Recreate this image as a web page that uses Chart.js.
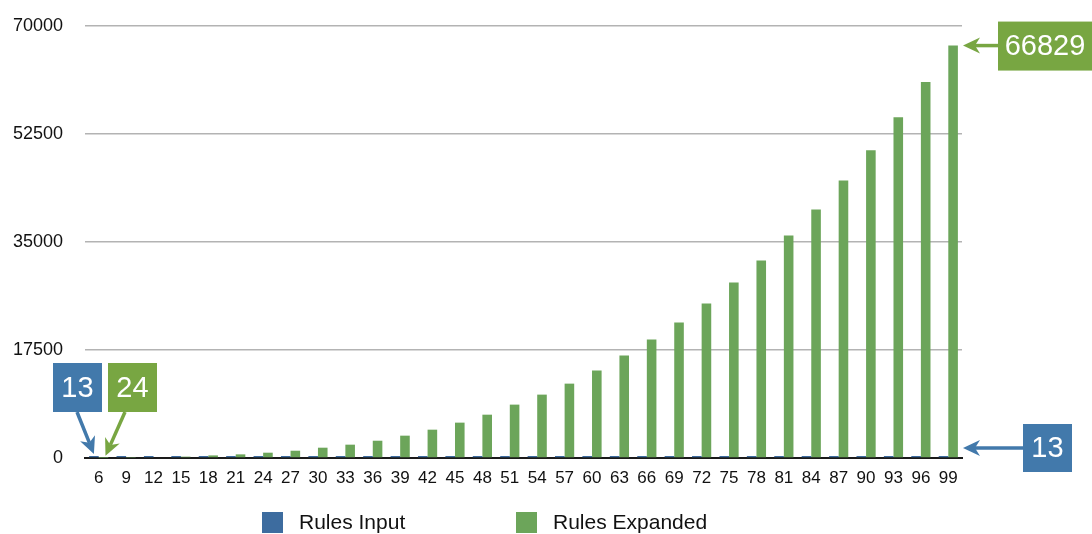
<!DOCTYPE html>
<html>
<head>
<meta charset="utf-8">
<script src="https://cdn.jsdelivr.net/npm/chart.js@4/dist/chart.umd.min.js"></script>
<style>
  html, body { margin: 0; padding: 0; background: #fff; }
  canvas { display: block; }
</style>
</head>
<body>
<canvas id="myChart" width="1092" height="534"></canvas>
<script>
// rule counts per input size
const tamanhos = [6, 9, 12, 15, 18, 21, 24, 27, 30, 33, 36, 39, 42, 45, 48, 51,
                  54, 57, 60, 63, 66, 69, 72, 75, 78, 81, 84, 87, 90, 93, 96, 99];
const rulesInput = [13, 13, 13, 13, 13, 13, 13, 13, 13, 13, 13, 13, 13, 13, 13, 13,
                    13, 13, 13, 13, 13, 13, 13, 13, 13, 13, 13, 13, 13, 13, 13, 13];
const rulesExpanded = [24, 60, 120, 220, 420, 590, 860, 1180, 1670, 2160, 2800, 3620,
                       4590, 5730, 7020, 8650, 10270, 12050, 14160, 16600, 19200, 21950,
                       25030, 28430, 32000, 36050, 40260, 44960, 49880, 55230, 60910, 66829];
const yTicks = [0, 17500, 35000, 52500, 70000];

const fonte = '"Liberation Sans", Helvetica, Arial, sans-serif';
const azul = '#3d6c9f';
const verde = '#6ca55a';
const azulCaixa = '#4279ab';
const verdeCaixa = '#78a642';

function seta(ctx, x1, y1, x2, y2, cor) {
    const ang = Math.atan2(y2 - y1, x2 - x1);
    const comp = 17, larg = 8, recuo = 5;
    ctx.save();
    ctx.strokeStyle = cor;
    ctx.fillStyle = cor;
    ctx.lineWidth = 3.5;
    ctx.beginPath();
    ctx.moveTo(x1, y1);
    ctx.lineTo(x2 - Math.cos(ang) * (comp - recuo), y2 - Math.sin(ang) * (comp - recuo));
    ctx.stroke();
    ctx.translate(x2, y2);
    ctx.rotate(ang);
    ctx.beginPath();
    ctx.moveTo(0, 0);
    ctx.lineTo(-comp, -larg);
    ctx.lineTo(-comp + recuo, 0);
    ctx.lineTo(-comp, larg);
    ctx.closePath();
    ctx.fill();
    ctx.restore();
}

function caixa(ctx, x, y, w, h, cor, texto) {
    ctx.save();
    ctx.fillStyle = cor;
    ctx.fillRect(x, y, w, h);
    ctx.fillStyle = '#fff';
    ctx.font = '29px ' + fonte;
    ctx.textAlign = 'center';
    ctx.textBaseline = 'middle';
    ctx.fillText(texto, x + w / 2, y + h / 2 + 1);
    ctx.restore();
}

// value callouts + legend drawn after the bars
const destaques = {
    id: 'destaques',
    afterDatasetsDraw(chart) {
        const ctx = chart.ctx;
        const area = chart.chartArea;
        const azulBars = chart.getDatasetMeta(0).data;
        const verdeBars = chart.getDatasetMeta(1).data;
        const ult = tamanhos.length - 1;

        // first point
        caixa(ctx, 53, 363, 49, 49, azulCaixa, String(rulesInput[0]));
        caixa(ctx, 108, 363, 49, 49, verdeCaixa, String(rulesExpanded[0]));
        seta(ctx, 77, 412, azulBars[0].x, azulBars[0].y - 2, azulCaixa);
        seta(ctx, 125, 412, verdeBars[0].x + 2, verdeBars[0].y - 2, verdeCaixa);

        // last point
        const yv = verdeBars[ult].y;
        caixa(ctx, 998, yv - 24, 94, 49, verdeCaixa, String(rulesExpanded[ult]));
        seta(ctx, 998, yv, area.right + 1, yv, verdeCaixa);
        caixa(ctx, 1023, 424, 49, 48, azulCaixa, String(rulesInput[ult]));
        seta(ctx, 1023, 448, area.right + 1, 448, azulCaixa);

        // legend
        const itens = [[262, 299], [516, 553]];
        chart.data.datasets.forEach((ds, i) => {
            ctx.save();
            ctx.fillStyle = ds.backgroundColor;
            ctx.fillRect(itens[i][0], 512, 21, 21);
            ctx.fillStyle = '#111';
            ctx.font = '21px ' + fonte;
            ctx.textBaseline = 'middle';
            ctx.fillText(ds.label, itens[i][1], 523);
            ctx.restore();
        });
    }
};

new Chart("myChart", {
    type: "bar",
    data: {
        labels: tamanhos,
        datasets: [{
            label: "Rules Input",
            backgroundColor: azul,
            data: rulesInput,
            minBarLength: 2
        }, {
            label: "Rules Expanded",
            backgroundColor: verde,
            data: rulesExpanded
        }]
    },
    options: {
        responsive: false,
        animation: false,
        devicePixelRatio: 1,
        layout: { padding: { left: 10, right: 130, top: 26, bottom: 0 } },
        datasets: { bar: { categoryPercentage: 0.7, barPercentage: 1.0 } },
        plugins: {
            legend: { display: false },
            tooltip: { enabled: false }
        },
        scales: {
            x: {
                grid: { display: false },
                border: { display: true, color: '#1a1a1a', width: 2 },
                ticks: { color: '#111', font: { family: fonte, size: 17 }, padding: 2, maxRotation: 0, autoSkip: false },
                afterFit: s => { s.height = 76; s.paddingLeft = 0; s.paddingRight = 0; }
            },
            y: {
                min: 0,
                max: 70000,
                afterBuildTicks: s => { s.ticks = yTicks.map(v => ({ value: v })); },
                border: { display: false },
                grid: {
                    drawTicks: false,
                    lineWidth: 1.5,
                    color: c => (c.tick && c.tick.value === 0) ? 'rgba(0,0,0,0)' : '#b3b3b3'
                },
                ticks: {
                    color: '#111',
                    font: { family: fonte, size: 18 },
                    padding: 22,
                    callback: v => String(v)
                },
                afterFit: s => { s.width = 75; s.paddingTop = 0; s.paddingBottom = 0; }
            }
        }
    },
    plugins: [destaques]
});
</script>
</body>
</html>
